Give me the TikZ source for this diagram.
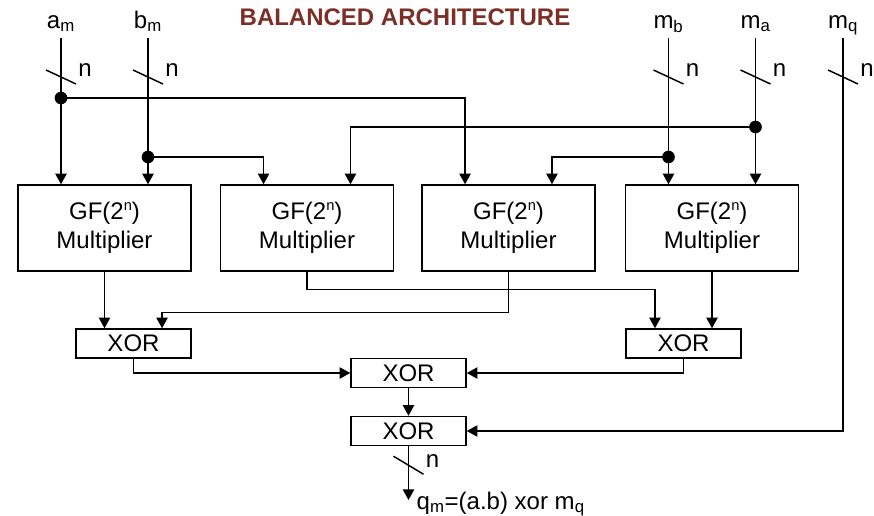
\documentclass[tikz,border=0pt]{standalone}
\usepackage{fontspec}
\setmainfont{Liberation Sans}
\usetikzlibrary{arrows.meta}
\definecolor{titlered}{RGB}{125,46,38}
\newcommand{\gfmul}{GF(2\raisebox{6.5pt}{\fontsize{11}{11}\selectfont n})\\Multiplier}
\tikzset{
	>={Triangle[length=8pt,width=8.5pt]},
	mult/.style={
		rectangle,
		draw=black, line width=1.1pt,
		minimum width=129.75pt,
		minimum height=64.5pt,
		align=center,
		font=\fontsize{18}{22}\selectfont},
	xorbox/.style={
		rectangle,
		draw=black, line width=1.1pt,
		minimum width=86.25pt,
		minimum height=21.75pt,
		inner sep=0pt,
		font=\fontsize{18}{22}\selectfont},
	sig/.style={
		font=\fontsize{18}{22}\selectfont,
		text height=13pt,
		text depth=4pt},
	wire/.style={
		line width=1.1pt},
	arr/.style={
		->,
		line width=1.1pt},
	dot/.style={
		circle,
		fill=black,
		inner sep=0pt,
		minimum size=9.5pt}
}

\begin{document}
\begin{tikzpicture}[x=0.75pt,y=0.75pt,yscale=-1,xscale=1]
\useasboundingbox (0,0) rectangle (874,515);

% Title
\node[font=\fontsize{18}{22}\selectfont\bfseries, text=titlered] (title) at (405,17) {BALANCED ARCHITECTURE};

% Input signals
\node[sig, anchor=base] (am) at (61,28) {a\textsubscript{m}};
\node[sig, anchor=base] (bm) at (148,28) {b\textsubscript{m}};
\node[sig, anchor=base] (mb) at (668.5,28) {m\textsubscript{b}};
\node[sig, anchor=base] (ma) at (755.5,28) {m\textsubscript{a}};
\node[sig, anchor=base] (mq) at (843,28) {m\textsubscript{q}};

% Multipliers
\node[mult] (mul1) at (104.5,228) {\gfmul};
\node[mult] (mul2) at (307,228) {\gfmul};
\node[mult] (mul3) at (508.5,228) {\gfmul};
\node[mult] (mul4) at (712,228) {\gfmul};

% XOR stages
\node[xorbox] (xor1) at (133.5,343.5) {XOR};
\node[xorbox] (xor2) at (683.5,343.5) {XOR};
\node[xorbox] (xor3) at (408.5,373) {XOR};
\node[xorbox] (xor4) at (408.5,431) {XOR};

% Output
\coordinate (qend) at (408.5,500);
\node[sig, anchor=base west] (qm) at (412,509) {q\textsubscript{m}=(a.b) xor m\textsubscript{q}};

% Branch points
\node[dot] (adot) at (61,98) {};
\node[dot] (bdot) at (148,157) {};
\node[dot] (madot) at (755.5,127) {};
\node[dot] (mbdot) at (668.5,157) {};

% Inputs to multipliers
\draw[arr] (am.south) -- (am.south |- mul1.north);
\draw[arr] (bm.south) -- (bm.south |- mul1.north);
\draw[arr] (mb.south) -- (mb.south |- mul4.north);
\draw[arr] (ma.south) -- (ma.south |- mul4.north);
\draw[arr] (mq.south) |- (xor4.east);
\draw[arr] (adot.center) -| ([xshift=-32.6pt]mul3.north);
\draw[arr] (bdot.center) -| ([xshift=-32.6pt]mul2.north);
\draw[arr] (madot.center) -| ([xshift=32.6pt]mul2.north);
\draw[arr] (mbdot.center) -| ([xshift=32.6pt]mul3.north);

% Bus width marks
\coordinate (busrow) at (0,77);
\foreach \s in {am,bm,mb,ma,mq}{
	\draw[wire] (\s |- busrow) ++(-15,-7) -- ++(30,14);
	\path (\s |- busrow) ++(24,-7) node[sig] (\s-n) {n};
}

% Multipliers to XOR
\draw[arr] (mul1.south) -- (mul1.south |- xor1.north);
\draw[arr] (mul2.south) -- ++(0,18) -| ([xshift=-21.4pt]xor2.north);
\draw[arr] (mul3.south) -- ++(0,41) -| ([xshift=21.4pt]xor1.north);
\draw[arr] (mul4.south) -- (mul4.south |- xor2.north);
\draw[arr] (xor1.south) |- (xor3.west);
\draw[arr] (xor2.south) |- (xor3.east);
\draw[arr] (xor3) -- (xor4);
\draw[arr] (xor4) -- (qend);
\path (xor4.south) ++(0,19) coordinate (qbus);
\draw[wire] (qbus) ++(-15,-9) -- ++(30,18);
\path (qbus) ++(24,-4) node[sig] (q-n) {n};
\end{tikzpicture}
\end{document}
